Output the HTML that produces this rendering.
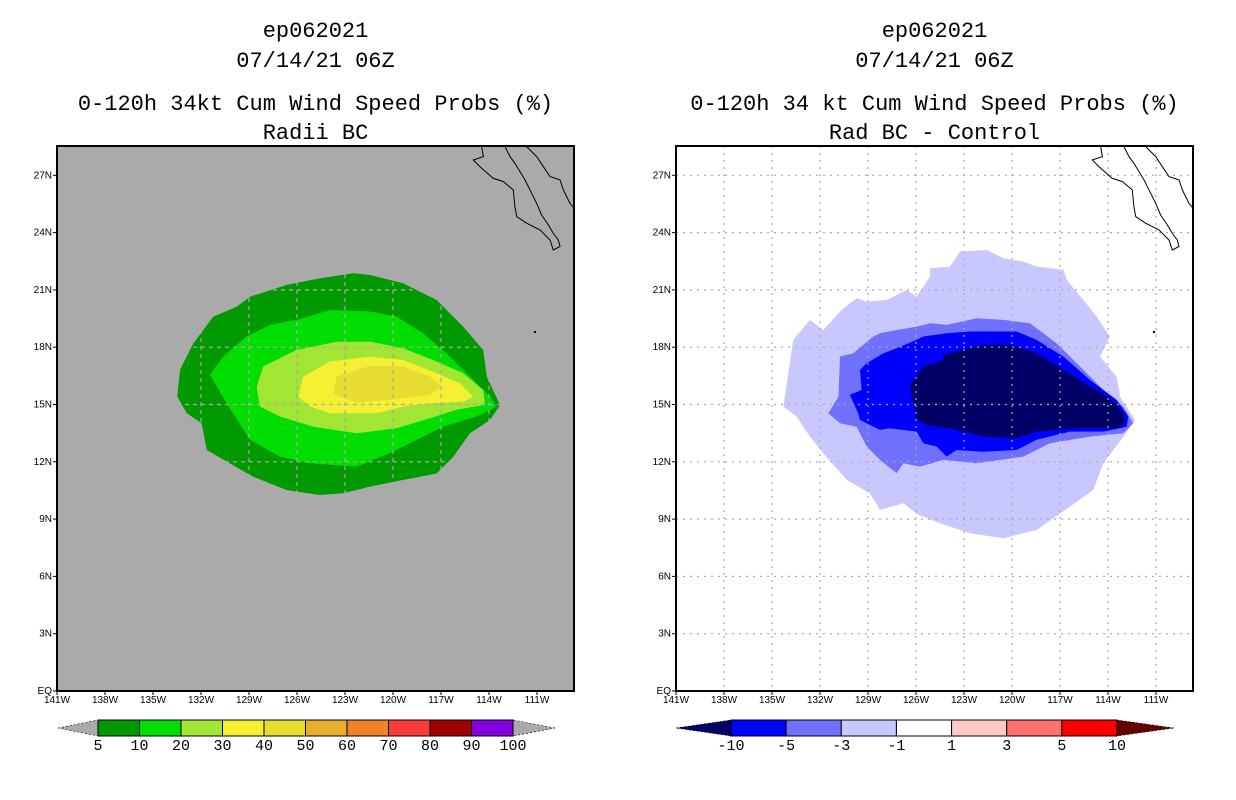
<!DOCTYPE html>
<html><head><meta charset="utf-8">
<style>
html,body{margin:0;padding:0;background:#fff;}
svg{display:block;}
text{font-family:"Liberation Mono",monospace;}
</style></head>
<body>
<svg id="chart" width="1236" height="800" viewBox="0 0 1236 800"></svg>
<script>
// ---- data ----
const lonTicks = [141,138,135,132,129,126,123,120,117,114,111];
const latTicks = [0,3,6,9,12,15,18,21,24,27];
const leftLevels = ["5","10","20","30","40","50","60","70","80","90","100"];
const leftColors = ["#009900","#00dd00","#a0e632","#f5f032","#e6dc32","#e6af2d","#f08228","#fa3c3c","#a00000","#8200dc"];
const rightLevels = ["-10","-5","-3","-1","1","3","5","10"];
const rightColors = ["#0000ff","#7070ff","#c8c8ff","#ffffff","#ffc8c8","#ff7070","#ff0000"];
const rightLow = "#000066", rightHigh = "#660000";
// left contours [lon W, lat N]
const c5 = [[133.48,15.41],[133.31,16.81],[132.48,18.2],[131.23,19.6],[129.77,20.12],[128.94,20.64],[126.64,21.26],[124.56,21.61],[122.48,21.87],[121.44,21.78],[119.36,21.35],[117.27,20.47],[115.61,19.07],[114.36,17.85],[114.14,16.46],[113.31,14.97],[113.94,14.19],[115.19,13.49],[116.23,12.26],[117.27,11.39],[119.36,11.05],[121.44,10.7],[123.11,10.35],[124.56,10.26],[126.64,10.52],[128.73,11.22],[130.39,12.01],[131.64,12.62],[131.96,14.02],[132.89,14.54]];
const c10 = [[131.44,16.55],[130.61,17.51],[129.15,18.56],[127.69,19.17],[126.02,19.43],[123.94,19.95],[121.44,19.87],[119.77,19.6],[118.11,18.73],[116.44,17.51],[114.98,16.29],[113.94,15.41],[113.52,14.89],[114.77,14.37],[116.86,13.84],[118.52,13.15],[120.19,12.45],[122.27,11.75],[125.19,11.92],[127.07,12.27],[128.94,13.15],[130.4,15.07]];
const c20 = [[128.52,15.94],[128.11,16.99],[126.02,17.86],[123.52,18.29],[121.44,18.29],[119.36,17.95],[117.27,17.25],[115.61,16.64],[114.36,15.76],[114.25,14.98],[116.02,14.72],[117.69,14.28],[119.77,13.76],[122.27,13.49],[124.98,13.84],[127.07,14.37],[128.32,14.89]];
const c30 = [[125.92,15.41],[125.61,16.46],[123.94,17.25],[121.44,17.51],[119.36,17.33],[117.27,16.64],[115.81,16.11],[114.98,15.41],[115.61,15.15],[117.69,15.07],[119.36,14.89],[121.02,14.54],[123.94,14.54],[125.19,14.89]];
const c40 = [[123.73,15.59],[123.52,16.46],[121.44,17.02],[119.36,16.99],[117.69,16.46],[116.96,15.94],[117.69,15.5],[120.19,15.24],[122.27,15.1],[123.32,15.41]];
// right contours
const d1 = [[134.29,14.89],[133.67,18.38],[132.63,19.43],[131.79,18.9],[130.65,19.95],[129.71,20.56],[129.08,20.39],[127.83,20.47],[126.58,21.0],[125.96,20.65],[125.12,21.7],[125.12,22.13],[123.88,22.22],[123.25,23.01],[121.58,23.09],[120.54,22.66],[119.29,22.48],[118.46,22.22],[116.79,22.05],[116.58,21.52],[115.54,20.47],[114.71,19.6],[113.88,18.56],[114.5,17.51],[113.46,16.46],[113.25,15.41],[112.31,14.19],[113.04,13.32],[114.29,11.92],[114.92,10.53],[116.38,9.65],[118.46,8.43],[120.54,8.0],[122.63,8.26],[124.5,8.78],[125.96,9.27],[126.79,9.83],[128.25,9.48],[128.88,10.35],[130.33,11.05],[131.79,12.45],[132.63,13.32],[133.46,14.37]];
const d3 = [[131.48,14.54],[130.85,15.41],[130.75,17.51],[129.92,17.68],[128.67,18.56],[128.25,18.73],[127.21,18.9],[125.96,19.08],[125.12,19.25],[124.08,19.17],[122.21,19.52],[120.54,19.43],[118.88,19.25],[117.21,18.21],[115.54,16.81],[114.29,15.76],[113.04,14.89],[112.42,14.02],[113.04,13.49],[115.13,13.32],[117.63,12.97],[119.29,12.27],[122.21,11.92],[124.29,12.1],[125.75,11.75],[126.79,11.92],[127.21,11.4],[128.25,12.1],[129.08,12.8],[129.71,13.84],[130.75,14.02]];
const d5 = [[130.13,15.5],[129.4,15.76],[129.5,16.81],[129.08,17.16],[128.04,17.68],[127.21,17.94],[125.96,18.38],[125.54,18.56],[124.08,18.73],[122.63,18.82],[119.71,18.82],[118.46,18.38],[116.79,17.51],[115.13,16.29],[113.46,15.24],[112.73,14.37],[112.83,13.84],[114.29,13.58],[116.38,13.58],[118.46,13.15],[119.71,12.62],[121.79,12.53],[123.46,12.62],[124.08,12.27],[124.71,12.8],[125.54,12.97],[125.96,13.58],[127.63,13.76],[128.25,13.67],[129.5,14.19],[129.61,14.54]];
const d10 = [[126.38,16.03],[125.54,16.98],[124.29,17.33],[124.29,17.6],[123.04,17.86],[121.79,18.12],[120.13,18.12],[118.46,17.68],[116.79,16.81],[115.13,15.94],[113.88,15.33],[113.04,14.54],[112.94,14.02],[113.46,13.76],[115.96,13.76],[118.46,13.58],[119.71,13.23],[121.79,13.32],[123.46,13.67],[125.33,13.93],[125.96,14.19],[126.17,15.07]];
const baja = [[114.4,28.85],[114.46,28.5],[114.35,27.98],[114.98,27.8],[114.56,27.45],[113.73,26.84],[113.1,26.67],[112.48,26.23],[112.38,25.36],[112.27,24.84],[111.65,24.49],[110.81,24.14],[110.19,23.61],[109.98,23.09],[109.56,23.27],[109.67,23.61],[109.98,23.96],[110.29,24.4],[110.71,24.92],[111.02,25.53],[111.33,26.06],[111.75,26.76],[112.38,27.63],[112.69,27.98],[113.0,28.5],[113.1,28.85]];
const mainland = [[111.9,28.85],[111.65,28.5],[111.02,27.98],[110.6,27.45],[110.19,26.93],[109.56,26.76],[109.35,26.23],[108.94,25.53],[108.7,25.3]];

// ---- drawing ----
const NS="http://www.w3.org/2000/svg";
const svg=document.getElementById('chart');
function mk(tag,attrs,parent){const e=document.createElementNS(NS,tag);for(const k in attrs)e.setAttribute(k,attrs[k]);(parent||svg).appendChild(e);return e;}
const PW=517, PT=146, PB=691, PXPD=16, PYPD=19.1;
function xs(x0){return lon=>x0+(141-lon)*PXPD;}
function ys(lat){return PB-lat*PYPD;}
function pts(arr,X){return arr.map(p=>X(p[0]).toFixed(1)+","+ys(p[1]).toFixed(1)).join(" ");}
function txt(x,y,s,size,anchor,parent,fam){const t=mk('text',{x:x,y:y,'font-size':size,'text-anchor':anchor||'middle',fill:'#000'},parent);if(fam)t.setAttribute('style','font-family:'+fam);t.textContent=s;return t;}

function panel(x0,bg,layers,gridStyle,titles,name){
  const g=mk('g',{});
  
  
  const X=xs(x0);
  const clipId='clip'+x0;
  const cp=mk('clipPath',{id:clipId},g);mk('rect',{x:x0,y:PT,width:PW,height:PB-PT},cp);
  const bgR=mk('rect',{x:x0,y:PT,width:PW,height:PB-PT,fill:bg},g);
  
  
  const inner=mk('g',{'clip-path':'url(#'+clipId+')'},g);
  layers.forEach(l=>{
    const p=mk('polygon',{points:pts(l.d,X),fill:l.c},inner);
    
    
  });
  const gg=mk('g',{stroke:'#aaaaaa','stroke-width':1.2,'stroke-dasharray':gridStyle},inner);
  
  
  lonTicks.forEach(l=>{if(l<141)mk('line',{x1:X(l),x2:X(l),y1:PT,y2:PB},gg);});
  latTicks.forEach(l=>{if(l>0)mk('line',{x1:x0,x2:x0+PW,y1:ys(l),y2:ys(l)},gg);});
  [baja,mainland].forEach((c,i)=>{
    const pl=mk('polyline',{points:pts(c,X),fill:'none',stroke:'#000','stroke-width':1},inner);
    
    
  });
  mk('rect',{x:x0+477,y:331,width:2,height:2,fill:'#000'},inner);
  const fr=mk('rect',{x:x0,y:PT,width:PW,height:PB-PT,fill:'none',stroke:'#000','stroke-width':2},g);
  
  
  lonTicks.forEach(l=>{
    mk('line',{x1:X(l),x2:X(l),y1:PB,y2:PB+4,stroke:'#000'},g);
    const t=txt(X(l),PB+12,l+"W",10,'middle',g,'"Liberation Sans Narrow","Liberation Sans",sans-serif');
    
    
  });
  latTicks.forEach(l=>{
    mk('line',{x1:x0-4,x2:x0,y1:ys(l),y2:ys(l),stroke:'#000'},g);
    const t=txt(x0-5,ys(l)+3,l===0?"EQ":l+"N",10,'end',g,'"Liberation Sans Narrow","Liberation Sans",sans-serif');
    
    
  });
  const cx=x0+PW/2;
  [30,60,103,132].forEach((yy,i)=>{
    const t=txt(cx,yy+7,titles[i],22,'middle',g);
    
    
  });
}

panel(57,'#aaaaaa',[
  {d:c5,c:leftColors[0],n:'5'},{d:c10,c:leftColors[1],n:'10'},{d:c20,c:leftColors[2],n:'20'},
  {d:c30,c:leftColors[3],n:'30'},{d:c40,c:leftColors[4],n:'40'}],
  '4,4',["ep062021","07/14/21 06Z","0-120h 34kt Cum Wind Speed Probs (%)","Radii BC"],'left-panel');
panel(676,'#ffffff',[
  {d:d1,c:rightColors[2],n:'minus1'},{d:d3,c:rightColors[1],n:'minus3'},{d:d5,c:rightColors[0],n:'minus5'},
  {d:d10,c:rightLow,n:'minus10'}],
  '2,5',["ep062021","07/14/21 06Z","0-120h 34 kt Cum Wind Speed Probs (%)","Rad BC - Control"],'right-panel');

function colorbar(tipL,bx0,bx1,tipR,colors,labels,lowC,highC,name){
  const g=mk('g',{});
  
  
  const y0=720,y1=736,ym=(y0+y1)/2;
  mk('polygon',{points:`${tipL},${ym} ${bx0},${y0} ${bx0},${y1}`,fill:lowC,stroke:'#000','stroke-width':0.6,'stroke-dasharray':'2,2'},g);
  mk('polygon',{points:`${tipR},${ym} ${bx1},${y0} ${bx1},${y1}`,fill:highC,stroke:'#000','stroke-width':0.6,'stroke-dasharray':'2,2'},g);
  const w=(bx1-bx0)/colors.length;
  colors.forEach((c,i)=>{
    const r=mk('rect',{x:bx0+i*w,y:y0,width:w,height:y1-y0,fill:c,stroke:'#000','stroke-width':1},g);
    
    
  });
  labels.forEach((s,i)=>{
    const t=txt(bx0+i*w,y1+14,s,15,'middle',g);
    
    
  });
}
colorbar(58,98,513,555,leftColors,leftLevels,'#aaaaaa','#aaaaaa','left-colorbar');
colorbar(676,731,1117,1174,rightColors,rightLevels,rightLow,rightHigh,'right-colorbar');
</script>
</body></html>
